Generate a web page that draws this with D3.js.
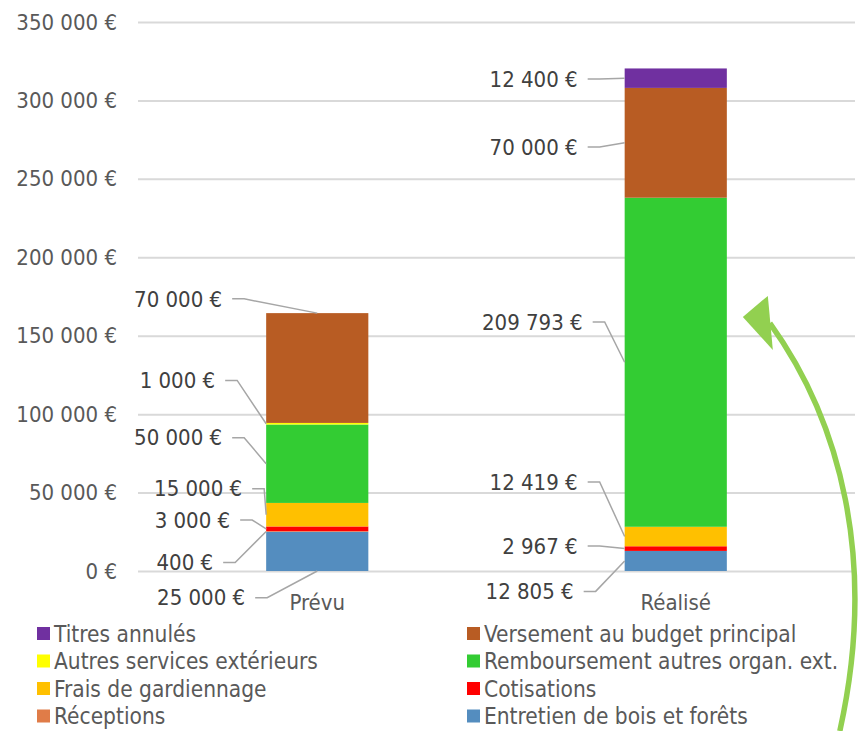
<!DOCTYPE html>
<html>
<head>
<meta charset="utf-8">
<script src="https://cdn.jsdelivr.net/npm/d3@7"></script>
<style>
  body { margin: 0; background: #fff; }
  svg text { font-family: "DejaVu Sans Condensed", "DejaVu Sans", sans-serif; }
</style>
</head>
<body>
<div id="chart"></div>
<script>
// categories (bars) and series, stacked bottom -> top
const categories = ["Prévu", "Réalisé"];
const seriesNames = [
  "Entretien de bois et forêts",
  "Réceptions",
  "Cotisations",
  "Frais de gardiennage",
  "Remboursement autres organ. ext.",
  "Autres services extérieurs",
  "Versement au budget principal",
  "Titres annulés"
];
const prevuValues   = [25000, 400, 3000, 15000, 50000, 1000, 70000, 0];
const realiseValues = [12805, 0, 2967, 12419, 209793, 0, 70000, 12400];
const seriesColors = ["#548dbf", "#e07c48", "#ff0000", "#ffc000", "#33cc33", "#ffff00", "#b85c23", "#7030a0"];
const yTicks = [0, 50000, 100000, 150000, 200000, 250000, 300000, 350000];
// legend order (two columns, read row by row)
const legendOrder = [7, 6, 5, 4, 3, 2, 1, 0];

// data label placement: x = right end of text (px left of bar), y in euros, anchor of leader on the bar
const labelLayout = {
  "Prévu": [
    {s: 0, dx: 21, y: -17000, at: "bottom"},
    {s: 1, dx: 53, y: 5400, at: "left"},
    {s: 2, dx: 36, y: 32500, at: "left"},
    {s: 3, dx: 24, y: 52500, at: "left"},
    {s: 4, dx: 44, y: 85000, at: "left"},
    {s: 5, dx: 51, y: 121500, at: "left"},
    {s: 6, dx: 44, y: 173500, at: "top"},
  ],
  "Réalisé": [
    {s: 0, dx: 51, y: -13000, at: "left"},
    {s: 2, dx: 47, y: 16000, at: "left"},
    {s: 3, dx: 47, y: 56700, at: "left"},
    {s: 4, dx: 42, y: 158800, at: "left"},
    {s: 6, dx: 47, y: 270300, at: "left"},
    {s: 7, dx: 47, y: 313600, at: "left"},
  ]
};

const width = 859, height = 731;
const margin = {top: 22, right: 4, bottom: 160, left: 138};
const fontSize = "22px";

const svg = d3.select("#chart").append("svg")
  .attr("width", width)
  .attr("height", height);

const loc = d3.formatLocale({decimal: ",", thousands: " ", grouping: [3], currency: ["", " €"]});
const fmt = v => loc.format(",")(v) + " €";

const xScale = d3.scaleBand()
  .domain(categories)
  .range([margin.left, width - margin.right]);

const yScale = d3.scaleLinear()
  .domain([0, 350000])
  .range([height - margin.bottom, margin.top]);

const barW = xScale.bandwidth() * 0.285;
const barX = c => xScale(c) + (xScale.bandwidth() - barW) / 2;

// gridlines + y labels
let yAxis = d3.axisLeft(yScale)
  .tickValues(yTicks)
  .tickSize(-(width - margin.right - margin.left))
  .tickPadding(21)
  .tickFormat(fmt);

let yG = svg.append("g")
  .attr("transform", "translate(" + margin.left + ",0)")
  .call(yAxis);
yG.select(".domain").remove();
yG.selectAll(".tick line").attr("stroke", "#d9d9d9").attr("stroke-width", 2);
yG.selectAll(".tick text")
  .attr("fill", "#595959")
  .style("font-size", fontSize);

// stacked bars
const rows = categories.map((c, i) => {
  let r = {cat: c};
  let vals = i == 0 ? prevuValues : realiseValues;
  seriesNames.forEach((s, j) => r[j] = vals[j]);
  return r;
});
const stack = d3.stack().keys(d3.range(seriesNames.length));
const stacked = stack(rows);

svg.append("g").selectAll("g")
  .data(stacked)
  .enter().append("g")
  .attr("fill", (d, i) => seriesColors[i])
  .selectAll("rect")
  .data(d => d)
  .enter().append("rect")
  .attr("x", d => barX(d.data.cat))
  .attr("y", d => yScale(d[1]))
  .attr("width", barW)
  .attr("height", d => yScale(d[0]) - yScale(d[1]));

// category labels
svg.append("g").selectAll("text")
  .data(categories)
  .enter().append("text")
  .attr("x", d => xScale(d) + xScale.bandwidth() / 2)
  .attr("y", yScale(0) + 39)
  .attr("text-anchor", "middle")
  .attr("fill", "#595959")
  .style("font-size", fontSize)
  .text(d => d);

// data labels with leader lines
const labG = svg.append("g");
categories.forEach((c, ci) => {
  let x0 = barX(c);
  labelLayout[c].forEach(l => {
    let seg = stacked[l.s][ci];
    let tx = x0 - l.dx;
    let ty = yScale(l.y);
    let ax, ay;
    if (l.at == "top") { ax = x0 + barW / 2; ay = yScale(seg[1]); }
    else if (l.at == "bottom") { ax = x0 + barW / 2; ay = yScale(seg[0]); }
    else { ax = x0; ay = yScale((seg[0] + seg[1]) / 2); }
    labG.append("path")
      .attr("d", "M" + (tx + 10) + "," + ty + "H" + (tx + 22) + "L" + ax + "," + ay)
      .attr("fill", "none")
      .attr("stroke", "#a6a6a6")
      .attr("stroke-width", 1.5);
    labG.append("text")
      .attr("x", tx)
      .attr("y", ty)
      .attr("dy", "0.35em")
      .attr("text-anchor", "end")
      .attr("fill", "#404040")
      .style("font-size", fontSize)
      .text(fmt(seg[1] - seg[0]));
  });
});

// legend
const legend = svg.append("g");
legendOrder.forEach((s, i) => {
  let col = i % 2, row = Math.floor(i / 2);
  let lx = col == 0 ? 37 : 467;
  let ly = 634 + row * 27.5;
  legend.append("rect")
    .attr("x", lx).attr("y", ly - 7)
    .attr("width", 13).attr("height", 13)
    .attr("fill", seriesColors[s]);
  legend.append("text")
    .attr("x", lx + 17).attr("y", ly)
    .attr("dy", "0.35em")
    .attr("fill", "#595959")
    .style("font-size", "22.5px")
    .text(seriesNames[s]);
});

// green curved arrow pointing at the Réalisé bar
const rx = barX("Réalisé") + barW;
const tip = [rx + 16, yScale(162000)];
svg.append("path")
  .attr("d", "M" + (rx + 113) + "," + height + " C" + (rx + 151) + "," + yScale(7000) + " " +
        (rx + 113) + "," + yScale(96000) + " " + (rx + 43) + "," + yScale(158000))
  .attr("fill", "none")
  .attr("stroke", "#92d050")
  .attr("stroke-width", 5.5);
svg.append("path")
  .attr("d", "M" + tip[0] + "," + tip[1] + " L" + (tip[0] + 25) + "," + (tip[1] - 21) +
        " L" + (tip[0] + 30) + "," + (tip[1] + 33) + " Z")
  .attr("fill", "#92d050");
</script>
</body>
</html>
